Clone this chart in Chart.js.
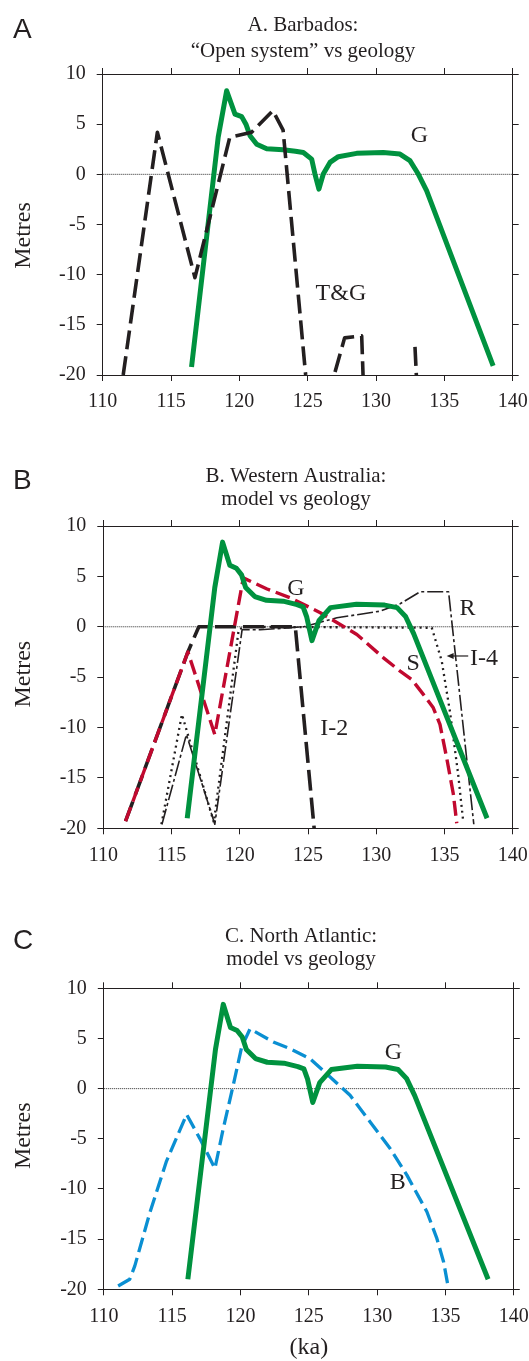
<!DOCTYPE html>
<html>
<head>
<meta charset="utf-8">
<title>Sea level: model vs geology</title>
<script src="https://cdn.jsdelivr.net/npm/chart.js@4.4.1/dist/chart.umd.min.js"></script>
<style>
  html, body { margin: 0; padding: 0; background: #fff; }
  body { position: relative; width: 529px; height: 1361px; overflow: hidden; }
  canvas { position: absolute; left: 0; }
</style>
</head>
<body>
<canvas id="panelA" width="529" height="440" style="top:0px"></canvas>
<canvas id="panelB" width="529" height="460" style="top:440px"></canvas>
<canvas id="panelC" width="529" height="461" style="top:900px"></canvas>
<script>
// axis ticks
const kaTicks = [110, 115, 120, 125, 130, 135, 140];
const metreTicks = [-20, -15, -10, -5, 0, 5, 10];

// zero reference line
const zeroKa = [110, 140];
const zeroM = [0, 0];

// geology (G), as drawn in the Barbados panel
const geoKaA = [116.5, 118.45, 119.07, 119.68, 120.17, 120.48, 120.78, 121.27, 122.0, 123.2, 124.1, 124.68, 125.29, 125.53, 125.82, 126.14, 126.63, 127.24, 128.58, 130.53, 131.75, 132.48, 133.09, 133.7, 138.57];
const geoMA = [-19.2, 3.7, 8.33, 6.0, 5.75, 5.0, 3.85, 3.0, 2.55, 2.45, 2.3, 2.18, 1.52, 0.03, -1.47, 0.03, 1.19, 1.76, 2.09, 2.18, 2.02, 1.36, 0.03, -1.63, -19.08];

// geology (G), Western Australia and North Atlantic panels
const geoKa = [116.15, 118.17, 118.74, 119.27, 119.75, 120.13, 120.43, 121.1, 121.96, 123.18, 124.2, 124.64, 124.91, 125.29, 125.8, 126.65, 128.55, 130.62, 131.53, 132.15, 132.75, 138.12];
const geoM = [-19.0, 3.9, 8.4, 6.1, 5.8, 5.15, 3.9, 3.0, 2.63, 2.54, 2.2, 1.97, 0.95, -1.38, 0.6, 1.9, 2.23, 2.15, 1.9, 1.02, -0.7, -19.0];

// T&G open-system record (null = break in the line)
const tgKa = [111.5, 114.0, 116.75, 119.3, 120.9, 122.45, 123.2, 124.85, null, 127.0, 127.7, 128.95, 129.05, null, 132.85, 132.95];
const tgM = [-20, 4.2, -10.3, 3.7, 4.2, 6.35, 4.4, -20, null, -19.7, -16.3, -16.1, -20, null, -17.2, -20];

// model runs, Western Australia
const sKa = [111.63, 116.2, 118.17, 120.26, 122.0, 123.7, 125.9, 127.36, 128.58, 130.53, 131.75, 132.6, 133.45, 134.18, 134.67, 135.16, 135.65, 135.9];
const sM = [-19.3, -2.5, -10.7, 4.85, 3.75, 2.88, 1.39, 0.23, -0.76, -3.08, -4.4, -5.23, -6.71, -8.04, -9.69, -13.0, -16.6, -19.5];

const i2Ka = [111.63, 116.2, 117.0, 124.07, 125.45];
const i2M = [-19.3, -2.5, 0, 0, -20];

const rKa = [114.3, 116.09, 118.17, 120.17, 121.5, 124.7, 127.12, 130.29, 131.75, 133.21, 135.3, 137.15];
const rM = [-19.6, -10.7, -19.6, -0.3, -0.3, 0, 0.89, 1.55, 2.28, 3.47, 3.47, -19.6];

const i4Ka = [114.26, 115.76, 118.1, 119.92, 120.3, 134.07, 134.8, 135.4, 136.0, 136.38];
const i4M = [-19.6, -8.7, -19.4, -0.3, 0, -0.1, -3.4, -8.4, -14.6, -19.4];

// model run, North Atlantic
const bKa = [111.05, 111.9, 112.27, 113.37, 114.59, 116.06, 117.03, 118.13, 118.74, 119.47, 120.09, 120.7, 122.4, 123.63, 125.09, 126.56, 128.02, 129.49, 130.95, 132.18, 133.64, 134.37, 134.86, 135.15];
const bM = [-19.67, -19.0, -17.67, -12.36, -7.22, -2.57, -4.98, -7.96, -3.98, 0.33, 4.15, 5.95, 4.65, 3.98, 2.99, 1.16, -0.66, -3.32, -5.97, -8.62, -12.27, -14.93, -17.25, -19.4];

const ink = '#231f20';
const green = '#00923f';
const red = '#c1092f';
const blue = '#0a8fd2';
const serif = '"Liberation Serif", "Times New Roman", serif';

Chart.defaults.font.family = serif;
Chart.defaults.color = ink;

function points(xs, ys) {
  return xs.map((x, i) => ({ x: x, y: ys[i] }));
}

function series(xs, ys, color, width, dash) {
  return {
    data: points(xs, ys),
    borderColor: color,
    borderWidth: width,
    borderDash: dash || [],
    borderJoinStyle: 'round',
    pointRadius: 0,
    tension: 0,
    spanGaps: false,
    clip: 0
  };
}

function zeroLine() {
  const d = series(zeroKa, zeroM, '#2a2a2a', 1, [1, 1]);
  d.borderJoinStyle = 'miter';
  return d;
}

// writes heading, panel letter, axis names and curve names
const panelText = {
  id: 'panelText',
  afterDraw(chart, args, o) {
    const { ctx, chartArea, scales } = chart;
    const x = scales.x, y = scales.y;
    ctx.save();
    ctx.fillStyle = ink;
    ctx.strokeStyle = ink;

    ctx.font = '28px "Liberation Sans", Arial, sans-serif';
    ctx.textAlign = 'left';
    ctx.textBaseline = 'alphabetic';
    ctx.fillText(o.letter, 13, o.letterBase);

    ctx.font = '21px ' + serif;
    ctx.textAlign = 'center';
    o.heading.forEach((line, i) => ctx.fillText(line, o.headingX, o.headingBase + i * o.headingGap));

    ctx.font = '24px ' + serif;
    ctx.save();
    ctx.translate(24, (chartArea.top + chartArea.bottom) / 2 + o.metresShift);
    ctx.rotate(-Math.PI / 2);
    ctx.textBaseline = 'middle';
    ctx.fillText('Metres', 0, 0);
    ctx.restore();

    ctx.textBaseline = 'middle';
    if (o.kaLabel) {
      ctx.fillText('(ka)', (chartArea.left + chartArea.right) / 2, o.kaLabel);
    }

    o.names.forEach(n => ctx.fillText(n.text, x.getPixelForValue(n.ka), y.getPixelForValue(n.m)));

    (o.arrows || []).forEach(a => {
      const x0 = x.getPixelForValue(a.fromKa), y0 = y.getPixelForValue(a.fromM);
      const x1 = x.getPixelForValue(a.toKa), y1 = y.getPixelForValue(a.toM);
      ctx.lineWidth = 1.2;
      ctx.beginPath();
      ctx.moveTo(x0, y0);
      ctx.lineTo(x1 + 4, y1);
      ctx.stroke();
      ctx.beginPath();
      ctx.moveTo(x1, y1);
      ctx.lineTo(x1 + 7, y1 - 3);
      ctx.lineTo(x1 + 7, y1 + 3);
      ctx.closePath();
      ctx.fill();
    });
    ctx.restore();
  }
};

function axis(position, size) {
  const horizontal = position === 'top' || position === 'bottom';
  const labelled = position === 'bottom' || position === 'left';
  const values = horizontal ? kaTicks : metreTicks;
  return {
    type: 'linear',
    position: position,
    min: horizontal ? 110 : -20,
    max: horizontal ? 140 : 10,
    afterBuildTicks: s => { s.ticks = values.map(v => ({ value: v })); },
    ticks: {
      display: labelled,
      font: { size: 20, family: serif },
      color: ink,
      padding: horizontal ? 9 : 11,
      maxRotation: 0,
      autoSkip: false
    },
    grid: { drawOnChartArea: false, drawTicks: true, tickLength: 6, tickColor: ink, tickWidth: 1, lineWidth: 1 },
    border: { display: true, color: ink, width: 1 },
    afterFit: s => {
      if (horizontal) s.height = size; else s.width = size;
      s.paddingLeft = 0; s.paddingRight = 0; s.paddingTop = 0; s.paddingBottom = 0;
    }
  };
}

function drawPanel(id, p, text, datasets) {
  const canvas = document.getElementById(id);
  const h = canvas.height;
  return new Chart(canvas, {
    type: 'line',
    data: { datasets: datasets },
    options: {
      responsive: false,
      animation: false,
      devicePixelRatio: 1,
      events: [],
      layout: {
        padding: { left: 0, right: 529 - p.right - 6, top: p.top - 6, bottom: h - p.bottom - 40 }
      },
      scales: {
        x: axis('bottom', 40),
        x2: axis('top', 6),
        y: axis('left', p.left),
        y2: axis('right', 6)
      },
      plugins: {
        legend: { display: false },
        tooltip: { enabled: false },
        panelText: text
      }
    },
    plugins: [panelText]
  });
}

// A. Barbados
drawPanel('panelA', { left: 102.7, right: 512.7, top: 74, bottom: 375 }, {
  letter: 'A', letterBase: 37.5,
  heading: ['A. Barbados:', '\u201COpen system\u201D vs geology'],
  headingX: 303, headingBase: 31, headingGap: 25.5,
  metresShift: 11,
  names: [{ text: 'G', ka: 133.17, m: 3.85 }, { text: 'T&G', ka: 127.43, m: -11.87 }]
}, [
  series(tgKa, tgM, ink, 3.6, [19, 7]),
  series(geoKaA, geoMA, green, 5),
  zeroLine()
]);

// B. Western Australia
drawPanel('panelB', { left: 103.3, right: 512.7, top: 86, bottom: 388.3 }, {
  letter: 'B', letterBase: 49.3,
  heading: ['B. Western Australia:', 'model vs geology'],
  headingX: 296, headingBase: 41.7, headingGap: 23,
  metresShift: -3,
  names: [
    { text: 'G', ka: 124.12, m: 3.75 },
    { text: 'R', ka: 136.68, m: 1.84 },
    { text: 'I-4', ka: 137.9, m: -3.13 },
    { text: 'S', ka: 132.71, m: -3.71 },
    { text: 'I-2', ka: 126.92, m: -10.07 }
  ],
  arrows: [{ fromKa: 136.74, fromM: -2.9, toKa: 135.16, toM: -2.9 }]
}, [
  series(geoKa, geoM, green, 5),
  series(sKa, sM, red, 3.4, [15, 6]),
  series(i2Ka, i2M, ink, 3.6, [21, 7]),
  series(rKa, rM, ink, 1.6, [16, 3, 3, 3]),
  series(i4Ka, i4M, ink, 2.3, [2, 4]),
  zeroLine()
]);

// C. North Atlantic
drawPanel('panelC', { left: 103.8, right: 513.8, top: 88.3, bottom: 389.3 }, {
  letter: 'C', letterBase: 49,
  heading: ['C. North Atlantic:', 'model vs geology'],
  headingX: 301, headingBase: 41.7, headingGap: 23.3,
  metresShift: -3,
  kaLabel: 448,
  names: [{ text: 'G', ka: 131.19, m: 3.6 }, { text: 'B', ka: 131.5, m: -9.36 }]
}, [
  series(geoKa, geoM, green, 5),
  series(bKa, bM, blue, 3.3, [15, 6]),
  zeroLine()
]);
</script>
</body>
</html>
